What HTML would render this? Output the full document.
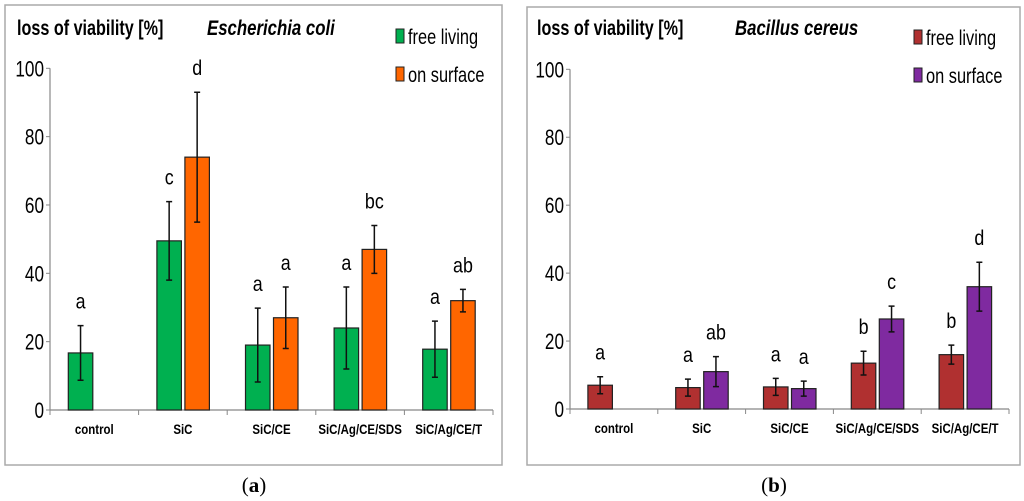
<!DOCTYPE html>
<html><head><meta charset="utf-8"><style>
body{margin:0;background:#fff;width:1024px;height:501px;overflow:hidden}
svg{display:block}
text{font-family:"Liberation Sans",Arial,sans-serif}
</style></head><body>
<svg id="svg" width="1024" height="501" xmlns="http://www.w3.org/2000/svg"></svg>
<script>
const categories=["control","SiC","SiC/CE","SiC/Ag/CE/SDS","SiC/Ag/CE/T"];
const yTicks=[0,20,40,60,80,100];
const ecoliFree=[16.7,49.5,19,24,17.8];
const ecoliFreeErr=[8,11.5,10.8,12,8.2];
const ecoliSurf=[null,74,27,47,32];
const ecoliSurfErr=[null,19,9,7,3.3];
const ecoliFreeLetters=["a","c","a","a","a"];
const ecoliSurfLetters=["","d","a","bc","ab"];
const bcFree=[7,6.3,6.5,13.5,16];
const bcFreeErr=[2.5,2.5,2.5,3.5,2.8];
const bcSurf=[null,11,6,26.5,36];
const bcSurfErr=[null,4.4,2.2,3.8,7.2];
const bcFreeLetters=["a","a","a","b","b"];
const bcSurfLetters=["","ab","a","c","d"];

const NS="http://www.w3.org/2000/svg";
const svg=document.getElementById('svg');
function mk(tag,attrs,parent,txt){const e=document.createElementNS(NS,tag);for(const k in attrs)e.setAttribute(k,attrs[k]);if(txt!==undefined)e.textContent=txt;(parent||svg).appendChild(e);return e;}

function panel(o){
  const g=mk('g',{});
  
  
  const b=mk('rect',{x:o.bx,y:o.by,width:o.bw,height:o.bh,fill:'#fff',stroke:'#aaa','stroke-width':1.5},g);
  
  const y=v=>o.y0-(o.y0-o.y100)*v/100;
  const cw=(o.x1-o.x0)/categories.length;
  let a=mk('line',{x1:o.x0,y1:o.y100,x2:o.x0,y2:o.y0,stroke:'#888','stroke-width':1.2},g);
  
  a=mk('line',{x1:o.x0,y1:o.y0,x2:o.x1,y2:o.y0,stroke:'#888','stroke-width':1.2},g);
  
  yTicks.forEach(t=>{
    mk('line',{x1:o.x0-4,y1:y(t),x2:o.x0,y2:y(t),stroke:'#888'},g);
    const tl=mk('text',{x:o.x0-6,y:y(t)+8,'text-anchor':'end','font-size':22,transform:`translate(${o.x0-6},0) scale(0.78,1) translate(${-(o.x0-6)},0)`},g,t);
    
  });
  for(let i=0;i<=categories.length;i++){const xx=o.x0+i*cw;mk('line',{x1:xx,y1:o.y0,x2:xx,y2:o.y0+5,stroke:'#888'},g);}
  categories.forEach((c,i)=>{
    const cx=o.x0+(i+0.5)*cw;
    const t=mk('text',{x:cx,y:o.y0+24,'text-anchor':'middle','font-size':14,'font-weight':'bold',transform:`translate(${cx},0) scale(0.82,1) translate(${-cx},0)`},g,c);
    
    const series=[[o.free,o.freeErr,o.freeL,o.c1,-26],[o.surf,o.surfErr,o.surfL,o.c2,2]];
    series.forEach((s,si)=>{
      const v=s[0][i];if(v===null)return;
      const x=cx+s[4],w=24.5;
      const r=mk('rect',{x:x,y:y(v),width:w,height:o.y0-y(v),fill:s[3],stroke:'#222','stroke-width':1.2},g);
      
      const e=s[1][i],ex=x+w/2;
      const eb=mk('path',{d:`M${ex},${y(v+e)}V${y(v-e)}M${ex-3},${y(v+e)}H${ex+3}M${ex-3},${y(v-e)}H${ex+3}`,stroke:'#111','stroke-width':1.5,fill:'none'},g);
      
      const l=mk('text',{x:ex,y:y(v+e)-17,'text-anchor':'middle','font-size':21,transform:`translate(${ex},0) scale(0.85,1) translate(${-ex},0)`},g,s[2][i]);
      
    });
  });
  let t=mk('text',{x:o.tx,y:o.ty,'font-size':21,'font-weight':'bold',transform:`translate(${o.tx},0) scale(0.77,1) translate(${-o.tx},0)`},g,'loss of viability [%]');
  
  t=mk('text',{x:o.sx,y:o.ty,'font-size':21,'font-weight':'bold','font-style':'italic',transform:`translate(${o.sx},0) scale(0.8,1) translate(${-o.sx},0)`},g,o.title);
  
  [[o.c1,'free living',o.ly],[o.c2,'on surface',o.ly+38]].forEach((L,k)=>{
    const lg=mk('g',{},g);
    
    mk('rect',{x:o.lx,y:L[2]-13,width:8,height:14,fill:L[0],stroke:'#222'},lg);
    mk('text',{x:o.lx+12,y:L[2]+2,'font-size':21,transform:`translate(${o.lx+12},0) scale(0.78,1) translate(${-(o.lx+12)},0)`},lg,L[1]);
  });
  const cap=mk('text',{x:o.capx,y:492,'text-anchor':'middle','font-size':21,style:'font-family:"Liberation Serif",serif'},g);
  
  mk('tspan',{},cap,'(');mk('tspan',{'font-weight':'bold'},cap,o.cap);mk('tspan',{},cap,')');
}
panel({id:'ecoli',bx:5,by:5,bw:497,bh:460,x0:50,x1:493,y0:410,y100:68.3,
  free:ecoliFree,freeErr:ecoliFreeErr,surf:ecoliSurf,surfErr:ecoliSurfErr,freeL:ecoliFreeLetters,surfL:ecoliSurfLetters,
  c1:'#00b050',c2:'#ff6600',tx:17,sx:207,ty:35,title:'Escherichia coli',lx:396,ly:42,capx:254,cap:'a'});
panel({id:'bacillus',bx:527,by:7,bw:493,bh:458,x0:570,x1:1009,y0:409,y100:69.3,
  free:bcFree,freeErr:bcFreeErr,surf:bcSurf,surfErr:bcSurfErr,freeL:bcFreeLetters,surfL:bcSurfLetters,
  c1:'#b03030',c2:'#7f2aa0',tx:537,sx:735,ty:35,title:'Bacillus cereus',lx:914,ly:43,capx:774,cap:'b'});
</script>
</body></html>
